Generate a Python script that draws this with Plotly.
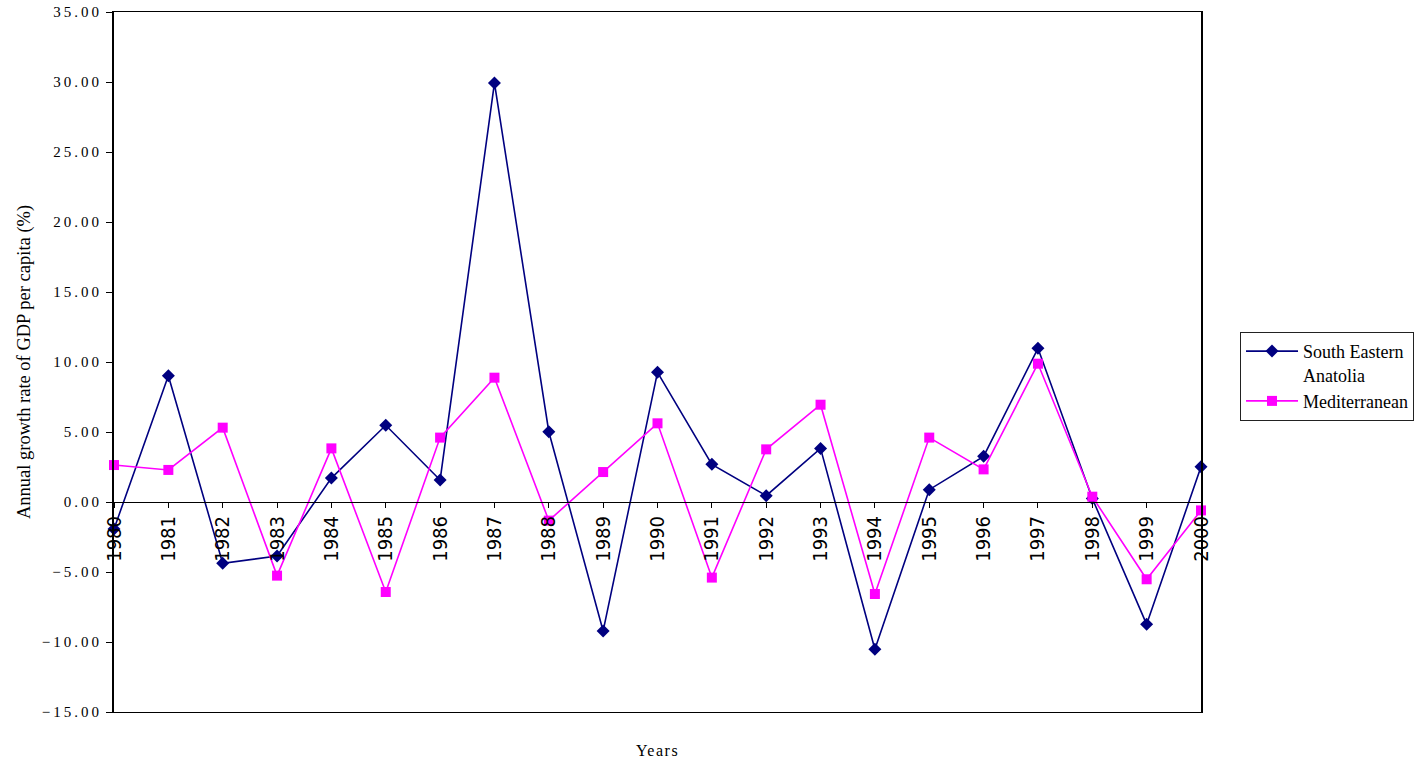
import plotly.graph_objects as go

# Annual growth rate of GDP per capita (%), 1980-2000
years = list(range(1980, 2001))
year_labels = [str(y) for y in years]
south_eastern_anatolia = [
    -1.93, 9.02, -4.38, -3.86, 1.71, 5.48, 1.57, 29.93, 5.02, -9.21,
    9.26, 2.69, 0.45, 3.83, -10.52, 0.88, 3.26, 10.98, 0.25, -8.74, 2.52,
]
mediterranean = [
    2.64, 2.29, 5.31, -5.26, 3.83, -6.43, 4.60, 8.88, -1.33, 2.14,
    5.62, -5.40, 3.76, 6.95, -6.57, 4.60, 2.33, 9.88, 0.38, -5.52, -0.60,
]
y_ticks = [-15, -10, -5, 0, 5, 10, 15, 20, 25, 30, 35]

SERIF = "Liberation Serif, Times New Roman, serif"
NARROW = "DejaVu Sans Condensed, sans-serif"

fig = go.Figure()
fig.add_trace(go.Scatter(
    x=years, y=south_eastern_anatolia, name="South Eastern<br>Anatolia",
    mode="lines+markers", cliponaxis=False,
    line=dict(color="#000080", width=1.6),
    marker=dict(symbol="diamond", size=10, color="#000080"),
))
fig.add_trace(go.Scatter(
    x=years, y=mediterranean, name="Mediterranean",
    mode="lines+markers", cliponaxis=False,
    line=dict(color="#FF00FF", width=1.6),
    marker=dict(symbol="square", size=10, color="#FF00FF"),
))
# empty trace that keeps the zero-crossing category axis drawn
fig.add_trace(go.Scatter(x=[], y=[], xaxis="x2", showlegend=False, hoverinfo="skip"))

fig.update_layout(
    width=1426, height=765,
    margin=dict(l=114, r=225, t=12, b=53, autoexpand=False),
    paper_bgcolor="white", plot_bgcolor="white",
    font=dict(family=SERIF, color="black", size=15),
    showlegend=True,
    legend=dict(
        x=1.0359, y=0.543, xanchor="left", yanchor="top",
        bordercolor="#222", borderwidth=1, bgcolor="white",
        font=dict(family=SERIF, size=18, color="black"),
        valign="top", tracegroupgap=0, itemwidth=52,
        entrywidth=220, entrywidthmode="pixels",
    ),
    xaxis=dict(
        range=[1980, 2000], anchor="y",
        showline=True, mirror=True, linecolor="black", linewidth=1,
        showgrid=False, zeroline=False, ticks="", showticklabels=False,
        title=dict(text="Years", font=dict(family=SERIF, size=16), standoff=32),
    ),
    xaxis2=dict(
        range=[1980, 2000], overlaying="x", anchor="free", position=0.3, side="bottom",
        tickmode="array", tickvals=years, ticktext=year_labels, tickangle=-90,
        ticks="outside", ticklen=5, tickcolor="black", tickwidth=1,
        showline=True, linecolor="black", linewidth=1,
        showgrid=False, zeroline=False,
        tickfont=dict(family=NARROW, size=20, color="black"),
    ),
    yaxis=dict(
        range=[-15, 35], tickmode="array", tickvals=y_ticks, tickformat=".2f",
        ticks="outside", ticklen=6, tickcolor="black", tickwidth=1,
        showline=True, mirror=True, linecolor="black", linewidth=2,
        showgrid=False, zeroline=False, ticklabelstandoff=1,
        tickfont=dict(family=SERIF, size=15, color="black"),
        title=dict(text="Annual growth rate of GDP per capita (%)",
                   font=dict(family=SERIF, size=18.5), standoff=24),
    ),
)

spacing_css = (
    "var s=document.createElement('style');"
    "s.textContent='g.ytick text{letter-spacing:3px}"
    " text.xtitle{letter-spacing:1.5px}';"
    "document.head.appendChild(s);"
)
fig.write_html("out.html", post_script=spacing_css)
